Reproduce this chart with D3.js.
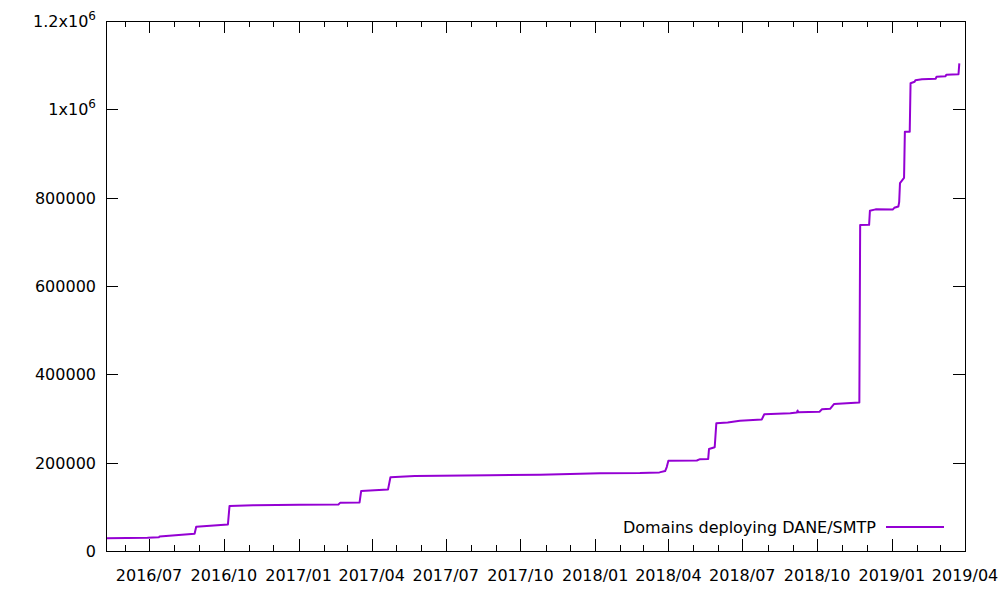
<!DOCTYPE html>
<html><head><meta charset="utf-8">
<script src="https://cdn.jsdelivr.net/npm/d3@7"></script>
<style>
html,body{margin:0;padding:0;background:#fff;}
text{font-family:"DejaVu Sans",sans-serif;}
</style></head>
<body><svg id="c" width="1000" height="600"></svg>
<script>
const dates = ["2016-05-09","2016-06-29","2016-07-13","2016-07-14","2016-08-26","2016-08-28","2016-10-06","2016-10-08","2016-11-06","2017-01-02","2017-02-19","2017-02-21","2017-03-17","2017-03-19","2017-04-21","2017-04-24","2017-05-24","2017-08-24","2017-10-25","2017-12-01","2018-01-07","2018-02-25","2018-03-21","2018-03-28","2018-03-30","2018-04-01","2018-05-06","2018-05-10","2018-05-20","2018-05-21","2018-05-28","2018-05-30","2018-06-13","2018-06-28","2018-07-25","2018-07-28","2018-08-29","2018-09-06","2018-09-07","2018-09-08","2018-10-04","2018-10-07","2018-10-17","2018-10-22","2018-11-22","2018-11-23","2018-12-04","2018-12-05","2018-12-12","2019-01-02","2019-01-04","2019-01-09","2019-01-10","2019-01-11","2019-01-16","2019-01-17","2019-01-23","2019-01-24","2019-01-29","2019-01-30","2019-02-07","2019-02-24","2019-02-25","2019-03-08","2019-03-09","2019-03-24","2019-03-25"];
const values = [29000,30000,31000,33000,39000,55000,60000,102000,103500,104500,105500,109000,110000,136000,139000,167000,170000,171400,172500,174500,176000,176600,178000,181000,190000,204500,205000,208000,208500,231000,235000,289000,291000,295000,298000,309500,312000,313500,318000,314000,315500,320800,322000,333000,336500,738000,738500,770500,773500,773000,777000,780000,790000,833000,845000,949000,949500,1059000,1062500,1066000,1068000,1069500,1074000,1075000,1078500,1079500,1104000];
const yTicks = [0,200000,400000,600000,800000,1000000,1200000];
const yTickLabels = [["0"],["200000"],["400000"],["600000"],["800000"],["1x10","6"],["1.2x10","6"]];
const xDomain = ["2016-05-09","2019-04-01"];
const seriesName = "Domains deploying DANE/SMTP";

const parse = d3.utcParse("%Y-%m-%d");
const data = dates.map((d,i)=>({date:parse(d), value:values[i]}));
const L=106,R=965,T=21,B=551;
const svg = d3.select("#c");
const x = d3.scaleUtc().domain(xDomain.map(parse)).range([L,R]);
const y = d3.scaleLinear().domain([0,1200000]).range([B,T]);

const major = d3.utcMonth.every(3).range(parse("2016-07-01"), d3.utcDay.offset(parse("2019-04-01"),1));
const minor = d3.utcMonth.range(parse("2016-06-01"), d3.utcDay.offset(parse("2019-04-01"),1)).filter(d=>d.getUTCMonth()%3!==0);
const g = svg.append("g").attr("stroke","#000").attr("stroke-width",1).attr("shape-rendering","crispEdges");
major.forEach(d=>{
  const px=Math.round(x(d))+0.5;
  g.append("line").attr("x1",px).attr("x2",px).attr("y1",B).attr("y2",B-12);
  g.append("line").attr("x1",px).attr("x2",px).attr("y1",T).attr("y2",T+12);
});
minor.forEach(d=>{
  const px=Math.round(x(d))+0.5;
  g.append("line").attr("x1",px).attr("x2",px).attr("y1",B).attr("y2",B-6);
  g.append("line").attr("x1",px).attr("x2",px).attr("y1",T).attr("y2",T+6);
});
yTicks.forEach(v=>{
  const py=Math.round(y(v))+0.5;
  g.append("line").attr("x1",L).attr("x2",L+12).attr("y1",py).attr("y2",py);
  g.append("line").attr("x1",R).attr("x2",R-12).attr("y1",py).attr("y2",py);
});
const fmt = d3.utcFormat("%Y/%m");
major.forEach(d=>{
  svg.append("text").attr("x",x(d)).attr("y",581).attr("text-anchor","middle")
    .attr("font-size",16).attr("fill","#000").text(fmt(d));
});
yTicks.forEach((v,i)=>{
  const lab=yTickLabels[i];
  const t=svg.append("text").attr("x",96).attr("y",y(v)+6).attr("text-anchor","end")
    .attr("font-size",16).attr("fill","#000");
  t.append("tspan").text(lab[0]);
  if(lab[1]) t.append("tspan").attr("font-size",12).attr("dy",-7).text(lab[1]);
});
svg.append("path").datum(data)
  .attr("d", d3.line().x(d=>x(d.date)).y(d=>y(d.value)))
  .attr("fill","none").attr("stroke","#9400d3").attr("stroke-width",2).attr("stroke-linejoin","round");
svg.append("text").attr("x",876).attr("y",532.5).attr("text-anchor","end")
  .attr("font-size",16).attr("fill","#000").text(seriesName);
svg.append("line").attr("x1",886).attr("x2",944).attr("y1",527).attr("y2",527)
  .attr("stroke","#9400d3").attr("stroke-width",2);
svg.append("rect").attr("x",L+0.5).attr("y",T+0.5).attr("width",R-L).attr("height",B-T)
  .attr("fill","none").attr("stroke","#000").attr("stroke-width",1).attr("shape-rendering","crispEdges");
</script></body></html>
